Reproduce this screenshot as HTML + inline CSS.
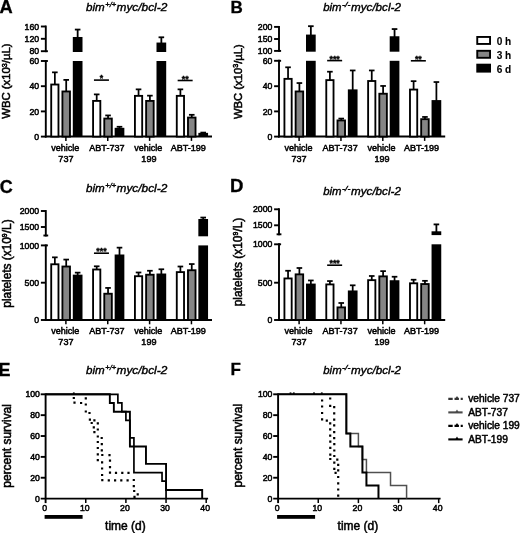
<!DOCTYPE html>
<html><head><meta charset="utf-8"><title>figure</title>
<style>html,body{margin:0;padding:0;background:#fff;}svg{display:block;will-change:transform;}text{font-family:"Liberation Sans",sans-serif;fill:#000;}</style>
</head><body>
<svg width="520" height="533" viewBox="0 0 520 533">
<rect x="0" y="0" width="520" height="533" fill="#fff"/>
<text x="-0.60" y="12.50" font-size="18.3" text-anchor="start" font-weight="bold" font-style="normal" stroke="#000" stroke-width="0.3" >A</text>
<text x="230.40" y="12.50" font-size="17" text-anchor="start" font-weight="bold" font-style="normal" stroke="#000" stroke-width="0.3" >B</text>
<text x="-0.30" y="193.20" font-size="18" text-anchor="start" font-weight="bold" font-style="normal" stroke="#000" stroke-width="0.3" >C</text>
<text x="229.90" y="191.80" font-size="18.6" text-anchor="start" font-weight="bold" font-style="normal" stroke="#000" stroke-width="0.3" >D</text>
<text x="-1.60" y="375.70" font-size="18" text-anchor="start" font-weight="bold" font-style="normal" stroke="#000" stroke-width="0.3" >E</text>
<text x="230.40" y="374.80" font-size="17" text-anchor="start" font-weight="bold" font-style="normal" stroke="#000" stroke-width="0.3" >F</text>
<text x="86.00" y="10.60" font-size="11.6" textLength="18.7" font-style="italic" stroke="#000" stroke-width="0.4" lengthAdjust="spacingAndGlyphs">bim</text>
<text x="105.20" y="6.60" font-size="7.5" textLength="11.0" font-style="italic" stroke="#000" stroke-width="0.4" lengthAdjust="spacingAndGlyphs">+/+</text>
<text x="116.50" y="10.60" font-size="11.6" textLength="50.8" font-style="italic" stroke="#000" stroke-width="0.4" lengthAdjust="spacingAndGlyphs">myc/bcl-2</text>
<text x="323.20" y="10.60" font-size="11.6" textLength="18.3" font-style="italic" stroke="#000" stroke-width="0.4" lengthAdjust="spacingAndGlyphs">bim</text>
<text x="342.00" y="6.60" font-size="7.5" textLength="8.4" font-style="italic" stroke="#000" stroke-width="0.4" lengthAdjust="spacingAndGlyphs">-/-</text>
<text x="351.00" y="10.60" font-size="11.6" textLength="49.9" font-style="italic" stroke="#000" stroke-width="0.4" lengthAdjust="spacingAndGlyphs">myc/bcl-2</text>
<text x="86.00" y="191.70" font-size="11.6" textLength="18.7" font-style="italic" stroke="#000" stroke-width="0.4" lengthAdjust="spacingAndGlyphs">bim</text>
<text x="105.20" y="187.70" font-size="7.5" textLength="11.0" font-style="italic" stroke="#000" stroke-width="0.4" lengthAdjust="spacingAndGlyphs">+/+</text>
<text x="116.50" y="191.70" font-size="11.6" textLength="50.8" font-style="italic" stroke="#000" stroke-width="0.4" lengthAdjust="spacingAndGlyphs">myc/bcl-2</text>
<text x="323.20" y="195.20" font-size="11.6" textLength="18.3" font-style="italic" stroke="#000" stroke-width="0.4" lengthAdjust="spacingAndGlyphs">bim</text>
<text x="342.00" y="191.20" font-size="7.5" textLength="8.4" font-style="italic" stroke="#000" stroke-width="0.4" lengthAdjust="spacingAndGlyphs">-/-</text>
<text x="351.00" y="195.20" font-size="11.6" textLength="49.9" font-style="italic" stroke="#000" stroke-width="0.4" lengthAdjust="spacingAndGlyphs">myc/bcl-2</text>
<text x="86.00" y="374.30" font-size="11.6" textLength="18.7" font-style="italic" stroke="#000" stroke-width="0.4" lengthAdjust="spacingAndGlyphs">bim</text>
<text x="105.20" y="370.30" font-size="7.5" textLength="11.0" font-style="italic" stroke="#000" stroke-width="0.4" lengthAdjust="spacingAndGlyphs">+/+</text>
<text x="116.50" y="374.30" font-size="11.6" textLength="50.8" font-style="italic" stroke="#000" stroke-width="0.4" lengthAdjust="spacingAndGlyphs">myc/bcl-2</text>
<text x="323.30" y="374.40" font-size="11.6" textLength="18.3" font-style="italic" stroke="#000" stroke-width="0.4" lengthAdjust="spacingAndGlyphs">bim</text>
<text x="342.10" y="370.40" font-size="7.5" textLength="8.4" font-style="italic" stroke="#000" stroke-width="0.4" lengthAdjust="spacingAndGlyphs">-/-</text>
<text x="351.10" y="374.40" font-size="11.6" textLength="49.9" font-style="italic" stroke="#000" stroke-width="0.4" lengthAdjust="spacingAndGlyphs">myc/bcl-2</text>
<text transform="translate(10.40,81.15) rotate(-90)" font-size="11" text-anchor="middle" textLength="75.3" lengthAdjust="spacingAndGlyphs" stroke="#000" stroke-width="0.55">WBC (x10<tspan font-size="7" dy="-3.5">3</tspan><tspan dy="3.5">/µL)</tspan></text>
<text transform="translate(241.50,81.60) rotate(-90)" font-size="11" text-anchor="middle" textLength="74.8" lengthAdjust="spacingAndGlyphs" stroke="#000" stroke-width="0.55">WBC (x10<tspan font-size="7" dy="-3.5">3</tspan><tspan dy="3.5">/µL)</tspan></text>
<text transform="translate(10.50,263.55) rotate(-90)" font-size="12" text-anchor="middle" textLength="88.3" lengthAdjust="spacingAndGlyphs" stroke="#000" stroke-width="0.55">platelets (x10<tspan font-size="7" dy="-3.5">9</tspan><tspan dy="3.5">/L)</tspan></text>
<text transform="translate(241.60,262.00) rotate(-90)" font-size="12" text-anchor="middle" textLength="88.5" lengthAdjust="spacingAndGlyphs" stroke="#000" stroke-width="0.55">platelets (x10<tspan font-size="7" dy="-3.5">9</tspan><tspan dy="3.5">/L)</tspan></text>
<text transform="translate(10.90,445.90) rotate(-90)" font-size="12" text-anchor="middle" textLength="83.6" lengthAdjust="spacingAndGlyphs" stroke="#000" stroke-width="0.55">percent survival</text>
<text transform="translate(242.00,445.70) rotate(-90)" font-size="12" text-anchor="middle" textLength="83.6" lengthAdjust="spacingAndGlyphs" stroke="#000" stroke-width="0.55">percent survival</text>
<line x1="45.80" y1="60.05" x2="45.80" y2="137.55" stroke="#000" stroke-width="1.9" />
<line x1="40.90" y1="61.00" x2="47.90" y2="61.00" stroke="#000" stroke-width="1.9" />
<text x="39.10" y="64.10" font-size="8.7" text-anchor="end" font-weight="normal" font-style="normal" stroke="#000" stroke-width="0.5" >60</text>
<line x1="40.90" y1="86.20" x2="45.80" y2="86.20" stroke="#000" stroke-width="1.9" />
<text x="39.10" y="89.30" font-size="8.7" text-anchor="end" font-weight="normal" font-style="normal" stroke="#000" stroke-width="0.5" >40</text>
<line x1="40.90" y1="111.40" x2="45.80" y2="111.40" stroke="#000" stroke-width="1.9" />
<text x="39.10" y="114.50" font-size="8.7" text-anchor="end" font-weight="normal" font-style="normal" stroke="#000" stroke-width="0.5" >20</text>
<line x1="40.90" y1="136.60" x2="45.80" y2="136.60" stroke="#000" stroke-width="1.9" />
<text x="39.10" y="139.70" font-size="8.7" text-anchor="end" font-weight="normal" font-style="normal" stroke="#000" stroke-width="0.5" >0</text>
<line x1="45.80" y1="25.55" x2="45.80" y2="52.15" stroke="#000" stroke-width="1.9" />
<line x1="40.90" y1="26.50" x2="45.80" y2="26.50" stroke="#000" stroke-width="1.9" />
<text x="39.10" y="29.60" font-size="8.7" text-anchor="end" font-weight="normal" font-style="normal" stroke="#000" stroke-width="0.5" >160</text>
<line x1="40.90" y1="38.80" x2="45.80" y2="38.80" stroke="#000" stroke-width="1.9" />
<text x="39.10" y="41.90" font-size="8.7" text-anchor="end" font-weight="normal" font-style="normal" stroke="#000" stroke-width="0.5" >120</text>
<line x1="40.90" y1="51.20" x2="47.90" y2="51.20" stroke="#000" stroke-width="1.9" />
<text x="39.10" y="54.30" font-size="8.7" text-anchor="end" font-weight="normal" font-style="normal" stroke="#000" stroke-width="0.5" >80</text>
<line x1="44.85" y1="136.60" x2="212.00" y2="136.60" stroke="#000" stroke-width="2.0" />
<line x1="65.90" y1="136.60" x2="65.90" y2="140.90" stroke="#000" stroke-width="1.5" />
<line x1="54.85" y1="72.34" x2="54.85" y2="85.31" stroke="#000" stroke-width="1.75" />
<line x1="52.05" y1="72.34" x2="57.65" y2="72.34" stroke="#000" stroke-width="1.75" />
<rect x="51.22" y="84.53" width="7.25" height="52.06" fill="#fff" stroke="#000" stroke-width="1.85"/>
<line x1="66.20" y1="79.90" x2="66.20" y2="92.24" stroke="#000" stroke-width="1.75" />
<line x1="63.40" y1="79.90" x2="69.00" y2="79.90" stroke="#000" stroke-width="1.75" />
<rect x="62.42" y="91.46" width="7.55" height="45.14" fill="#858585" stroke="#000" stroke-width="1.85"/>
<rect x="72.80" y="61.00" width="9.70" height="75.60" fill="#000"/>
<rect x="72.80" y="36.99" width="9.70" height="15.01" fill="#000"/>
<line x1="77.65" y1="29.57" x2="77.65" y2="37.99" stroke="#000" stroke-width="1.8" />
<line x1="74.85" y1="29.57" x2="80.45" y2="29.57" stroke="#000" stroke-width="1.8" />
<line x1="107.75" y1="136.60" x2="107.75" y2="140.90" stroke="#000" stroke-width="1.5" />
<line x1="96.70" y1="94.39" x2="96.70" y2="101.69" stroke="#000" stroke-width="1.75" />
<line x1="93.90" y1="94.39" x2="99.50" y2="94.39" stroke="#000" stroke-width="1.75" />
<rect x="93.08" y="100.91" width="7.25" height="35.69" fill="#fff" stroke="#000" stroke-width="1.85"/>
<line x1="108.05" y1="115.43" x2="108.05" y2="119.33" stroke="#000" stroke-width="1.75" />
<line x1="105.25" y1="115.43" x2="110.85" y2="115.43" stroke="#000" stroke-width="1.75" />
<rect x="104.28" y="118.55" width="7.55" height="18.04" fill="#858585" stroke="#000" stroke-width="1.85"/>
<line x1="119.50" y1="126.77" x2="119.50" y2="129.41" stroke="#000" stroke-width="1.75" />
<line x1="116.70" y1="126.77" x2="122.30" y2="126.77" stroke="#000" stroke-width="1.75" />
<rect x="114.65" y="127.81" width="9.70" height="8.79" fill="#000"/>
<line x1="149.60" y1="136.60" x2="149.60" y2="140.90" stroke="#000" stroke-width="1.5" />
<line x1="138.55" y1="89.35" x2="138.55" y2="96.65" stroke="#000" stroke-width="1.75" />
<line x1="135.75" y1="89.35" x2="141.35" y2="89.35" stroke="#000" stroke-width="1.75" />
<rect x="134.93" y="95.87" width="7.25" height="40.73" fill="#fff" stroke="#000" stroke-width="1.85"/>
<line x1="149.90" y1="95.65" x2="149.90" y2="101.69" stroke="#000" stroke-width="1.75" />
<line x1="147.10" y1="95.65" x2="152.70" y2="95.65" stroke="#000" stroke-width="1.75" />
<rect x="146.12" y="100.91" width="7.55" height="35.69" fill="#858585" stroke="#000" stroke-width="1.85"/>
<rect x="156.50" y="61.00" width="9.70" height="75.60" fill="#000"/>
<rect x="156.50" y="42.55" width="9.70" height="9.45" fill="#000"/>
<line x1="161.35" y1="37.30" x2="161.35" y2="43.55" stroke="#000" stroke-width="1.8" />
<line x1="158.55" y1="37.30" x2="164.15" y2="37.30" stroke="#000" stroke-width="1.8" />
<line x1="191.45" y1="136.60" x2="191.45" y2="140.90" stroke="#000" stroke-width="1.5" />
<line x1="180.40" y1="89.35" x2="180.40" y2="96.65" stroke="#000" stroke-width="1.75" />
<line x1="177.60" y1="89.35" x2="183.20" y2="89.35" stroke="#000" stroke-width="1.75" />
<rect x="176.78" y="95.87" width="7.25" height="40.73" fill="#fff" stroke="#000" stroke-width="1.85"/>
<line x1="191.75" y1="114.80" x2="191.75" y2="118.32" stroke="#000" stroke-width="1.75" />
<line x1="188.95" y1="114.80" x2="194.55" y2="114.80" stroke="#000" stroke-width="1.75" />
<rect x="187.98" y="117.55" width="7.55" height="19.05" fill="#858585" stroke="#000" stroke-width="1.85"/>
<line x1="203.20" y1="132.57" x2="203.20" y2="134.45" stroke="#000" stroke-width="1.75" />
<line x1="200.40" y1="132.57" x2="206.00" y2="132.57" stroke="#000" stroke-width="1.75" />
<rect x="198.35" y="132.85" width="9.70" height="3.75" fill="#000"/>
<line x1="93.95" y1="80.10" x2="108.95" y2="80.10" stroke="#000" stroke-width="1.6" />
<text x="101.45" y="81.20" font-size="8.8" text-anchor="middle" font-weight="bold" font-style="normal" stroke="#000" stroke-width="0.35" >*</text>
<line x1="177.65" y1="80.50" x2="192.65" y2="80.50" stroke="#000" stroke-width="1.6" />
<text x="185.15" y="81.60" font-size="8.8" text-anchor="middle" font-weight="bold" font-style="normal" stroke="#000" stroke-width="0.35" >**</text>
<text x="65.30" y="151.20" font-size="9.05" text-anchor="middle" font-weight="normal" font-style="normal" stroke="#000" stroke-width="0.5" >vehicle</text>
<text x="65.90" y="162.10" font-size="9.05" text-anchor="middle" font-weight="normal" font-style="normal" stroke="#000" stroke-width="0.5" >737</text>
<text x="106.90" y="151.20" font-size="9.05" text-anchor="middle" font-weight="normal" font-style="normal" stroke="#000" stroke-width="0.5" >ABT-737</text>
<text x="148.30" y="151.20" font-size="9.05" text-anchor="middle" font-weight="normal" font-style="normal" stroke="#000" stroke-width="0.5" >vehicle</text>
<text x="148.90" y="162.10" font-size="9.05" text-anchor="middle" font-weight="normal" font-style="normal" stroke="#000" stroke-width="0.5" >199</text>
<text x="188.30" y="151.20" font-size="9.05" text-anchor="middle" font-weight="normal" font-style="normal" stroke="#000" stroke-width="0.5" >ABT-199</text>
<line x1="279.00" y1="59.85" x2="279.00" y2="137.55" stroke="#000" stroke-width="1.9" />
<line x1="274.10" y1="60.80" x2="281.10" y2="60.80" stroke="#000" stroke-width="1.9" />
<text x="272.30" y="63.90" font-size="8.7" text-anchor="end" font-weight="normal" font-style="normal" stroke="#000" stroke-width="0.5" >60</text>
<line x1="274.10" y1="86.20" x2="279.00" y2="86.20" stroke="#000" stroke-width="1.9" />
<text x="272.30" y="89.30" font-size="8.7" text-anchor="end" font-weight="normal" font-style="normal" stroke="#000" stroke-width="0.5" >40</text>
<line x1="274.10" y1="111.40" x2="279.00" y2="111.40" stroke="#000" stroke-width="1.9" />
<text x="272.30" y="114.50" font-size="8.7" text-anchor="end" font-weight="normal" font-style="normal" stroke="#000" stroke-width="0.5" >20</text>
<line x1="274.10" y1="136.60" x2="279.00" y2="136.60" stroke="#000" stroke-width="1.9" />
<text x="272.30" y="139.70" font-size="8.7" text-anchor="end" font-weight="normal" font-style="normal" stroke="#000" stroke-width="0.5" >0</text>
<line x1="279.00" y1="25.95" x2="279.00" y2="51.85" stroke="#000" stroke-width="1.9" />
<line x1="274.10" y1="26.90" x2="279.00" y2="26.90" stroke="#000" stroke-width="1.9" />
<text x="272.30" y="30.00" font-size="8.7" text-anchor="end" font-weight="normal" font-style="normal" stroke="#000" stroke-width="0.5" >200</text>
<line x1="274.10" y1="39.00" x2="279.00" y2="39.00" stroke="#000" stroke-width="1.9" />
<text x="272.30" y="42.10" font-size="8.7" text-anchor="end" font-weight="normal" font-style="normal" stroke="#000" stroke-width="0.5" >150</text>
<line x1="274.10" y1="50.90" x2="281.10" y2="50.90" stroke="#000" stroke-width="1.9" />
<text x="272.30" y="54.00" font-size="8.7" text-anchor="end" font-weight="normal" font-style="normal" stroke="#000" stroke-width="0.5" >100</text>
<line x1="278.05" y1="136.60" x2="445.20" y2="136.60" stroke="#000" stroke-width="2.0" />
<line x1="299.10" y1="136.60" x2="299.10" y2="140.90" stroke="#000" stroke-width="1.5" />
<line x1="288.05" y1="67.30" x2="288.05" y2="79.64" stroke="#000" stroke-width="1.75" />
<line x1="285.25" y1="67.30" x2="290.85" y2="67.30" stroke="#000" stroke-width="1.75" />
<rect x="284.43" y="78.86" width="7.25" height="57.74" fill="#fff" stroke="#000" stroke-width="1.85"/>
<line x1="299.40" y1="83.05" x2="299.40" y2="92.24" stroke="#000" stroke-width="1.75" />
<line x1="296.60" y1="83.05" x2="302.20" y2="83.05" stroke="#000" stroke-width="1.75" />
<rect x="295.62" y="91.46" width="7.55" height="45.14" fill="#858585" stroke="#000" stroke-width="1.85"/>
<rect x="306.00" y="60.80" width="9.70" height="75.80" fill="#000"/>
<rect x="306.00" y="34.58" width="9.70" height="17.12" fill="#000"/>
<line x1="310.85" y1="26.18" x2="310.85" y2="35.58" stroke="#000" stroke-width="1.8" />
<line x1="308.05" y1="26.18" x2="313.65" y2="26.18" stroke="#000" stroke-width="1.8" />
<line x1="340.95" y1="136.60" x2="340.95" y2="140.90" stroke="#000" stroke-width="1.5" />
<line x1="329.90" y1="71.71" x2="329.90" y2="80.90" stroke="#000" stroke-width="1.75" />
<line x1="327.10" y1="71.71" x2="332.70" y2="71.71" stroke="#000" stroke-width="1.75" />
<rect x="326.28" y="80.12" width="7.25" height="56.48" fill="#fff" stroke="#000" stroke-width="1.85"/>
<line x1="341.25" y1="118.58" x2="341.25" y2="121.22" stroke="#000" stroke-width="1.75" />
<line x1="338.45" y1="118.58" x2="344.05" y2="118.58" stroke="#000" stroke-width="1.75" />
<rect x="337.48" y="120.44" width="7.55" height="16.15" fill="#858585" stroke="#000" stroke-width="1.85"/>
<line x1="352.70" y1="70.45" x2="352.70" y2="90.98" stroke="#000" stroke-width="1.75" />
<line x1="349.90" y1="70.45" x2="355.50" y2="70.45" stroke="#000" stroke-width="1.75" />
<rect x="347.85" y="89.38" width="9.70" height="47.22" fill="#000"/>
<line x1="382.80" y1="136.60" x2="382.80" y2="140.90" stroke="#000" stroke-width="1.5" />
<line x1="371.75" y1="70.45" x2="371.75" y2="81.78" stroke="#000" stroke-width="1.75" />
<line x1="368.95" y1="70.45" x2="374.55" y2="70.45" stroke="#000" stroke-width="1.75" />
<rect x="368.12" y="81.01" width="7.25" height="55.59" fill="#fff" stroke="#000" stroke-width="1.85"/>
<line x1="383.10" y1="85.95" x2="383.10" y2="94.51" stroke="#000" stroke-width="1.75" />
<line x1="380.30" y1="85.95" x2="385.90" y2="85.95" stroke="#000" stroke-width="1.75" />
<rect x="379.32" y="93.73" width="7.55" height="42.87" fill="#858585" stroke="#000" stroke-width="1.85"/>
<rect x="389.70" y="60.80" width="9.70" height="75.80" fill="#000"/>
<rect x="389.70" y="36.26" width="9.70" height="15.44" fill="#000"/>
<line x1="394.55" y1="29.06" x2="394.55" y2="37.26" stroke="#000" stroke-width="1.8" />
<line x1="391.75" y1="29.06" x2="397.35" y2="29.06" stroke="#000" stroke-width="1.8" />
<line x1="424.65" y1="136.60" x2="424.65" y2="140.90" stroke="#000" stroke-width="1.5" />
<line x1="413.60" y1="81.16" x2="413.60" y2="90.35" stroke="#000" stroke-width="1.75" />
<line x1="410.80" y1="81.16" x2="416.40" y2="81.16" stroke="#000" stroke-width="1.75" />
<rect x="409.98" y="89.57" width="7.25" height="47.03" fill="#fff" stroke="#000" stroke-width="1.85"/>
<line x1="424.95" y1="116.94" x2="424.95" y2="119.96" stroke="#000" stroke-width="1.75" />
<line x1="422.15" y1="116.94" x2="427.75" y2="116.94" stroke="#000" stroke-width="1.75" />
<rect x="421.18" y="119.18" width="7.55" height="17.41" fill="#858585" stroke="#000" stroke-width="1.85"/>
<line x1="436.40" y1="82.04" x2="436.40" y2="101.69" stroke="#000" stroke-width="1.75" />
<line x1="433.60" y1="82.04" x2="439.20" y2="82.04" stroke="#000" stroke-width="1.75" />
<rect x="431.55" y="100.09" width="9.70" height="36.51" fill="#000"/>
<line x1="327.15" y1="60.60" x2="342.15" y2="60.60" stroke="#000" stroke-width="1.6" />
<text x="334.65" y="61.70" font-size="8.8" text-anchor="middle" font-weight="bold" font-style="normal" stroke="#000" stroke-width="0.35" >***</text>
<line x1="410.85" y1="60.80" x2="425.85" y2="60.80" stroke="#000" stroke-width="1.6" />
<text x="418.35" y="61.90" font-size="8.8" text-anchor="middle" font-weight="bold" font-style="normal" stroke="#000" stroke-width="0.35" >**</text>
<text x="298.50" y="151.20" font-size="9.05" text-anchor="middle" font-weight="normal" font-style="normal" stroke="#000" stroke-width="0.5" >vehicle</text>
<text x="299.10" y="162.10" font-size="9.05" text-anchor="middle" font-weight="normal" font-style="normal" stroke="#000" stroke-width="0.5" >737</text>
<text x="340.10" y="151.20" font-size="9.05" text-anchor="middle" font-weight="normal" font-style="normal" stroke="#000" stroke-width="0.5" >ABT-737</text>
<text x="381.50" y="151.20" font-size="9.05" text-anchor="middle" font-weight="normal" font-style="normal" stroke="#000" stroke-width="0.5" >vehicle</text>
<text x="382.10" y="162.10" font-size="9.05" text-anchor="middle" font-weight="normal" font-style="normal" stroke="#000" stroke-width="0.5" >199</text>
<text x="421.50" y="151.20" font-size="9.05" text-anchor="middle" font-weight="normal" font-style="normal" stroke="#000" stroke-width="0.5" >ABT-199</text>
<line x1="45.80" y1="244.45" x2="45.80" y2="320.95" stroke="#000" stroke-width="1.9" />
<line x1="40.90" y1="245.40" x2="47.90" y2="245.40" stroke="#000" stroke-width="1.9" />
<text x="39.10" y="248.50" font-size="8.7" text-anchor="end" font-weight="normal" font-style="normal" stroke="#000" stroke-width="0.5" >1000</text>
<line x1="40.90" y1="282.70" x2="45.80" y2="282.70" stroke="#000" stroke-width="1.9" />
<text x="39.10" y="285.80" font-size="8.7" text-anchor="end" font-weight="normal" font-style="normal" stroke="#000" stroke-width="0.5" >500</text>
<line x1="40.90" y1="320.00" x2="45.80" y2="320.00" stroke="#000" stroke-width="1.9" />
<text x="39.10" y="323.10" font-size="8.7" text-anchor="end" font-weight="normal" font-style="normal" stroke="#000" stroke-width="0.5" >0</text>
<line x1="45.80" y1="210.05" x2="45.80" y2="236.45" stroke="#000" stroke-width="1.9" />
<line x1="40.90" y1="211.00" x2="45.80" y2="211.00" stroke="#000" stroke-width="1.9" />
<text x="39.10" y="214.10" font-size="8.7" text-anchor="end" font-weight="normal" font-style="normal" stroke="#000" stroke-width="0.5" >2000</text>
<line x1="40.90" y1="227.00" x2="45.80" y2="227.00" stroke="#000" stroke-width="1.9" />
<text x="39.10" y="230.10" font-size="8.7" text-anchor="end" font-weight="normal" font-style="normal" stroke="#000" stroke-width="0.5" >1500</text>
<line x1="43.40" y1="235.50" x2="48.20" y2="235.50" stroke="#000" stroke-width="1.9" />
<line x1="44.85" y1="320.00" x2="212.00" y2="320.00" stroke="#000" stroke-width="2.0" />
<line x1="65.90" y1="320.00" x2="65.90" y2="324.30" stroke="#000" stroke-width="1.5" />
<line x1="54.85" y1="257.34" x2="54.85" y2="265.05" stroke="#000" stroke-width="1.75" />
<line x1="52.05" y1="257.34" x2="57.65" y2="257.34" stroke="#000" stroke-width="1.75" />
<rect x="51.22" y="264.28" width="7.25" height="55.72" fill="#fff" stroke="#000" stroke-width="1.85"/>
<line x1="66.20" y1="259.57" x2="66.20" y2="267.29" stroke="#000" stroke-width="1.75" />
<line x1="63.40" y1="259.57" x2="69.00" y2="259.57" stroke="#000" stroke-width="1.75" />
<rect x="62.42" y="266.51" width="7.55" height="53.49" fill="#858585" stroke="#000" stroke-width="1.85"/>
<line x1="77.65" y1="272.63" x2="77.65" y2="276.24" stroke="#000" stroke-width="1.75" />
<line x1="74.85" y1="272.63" x2="80.45" y2="272.63" stroke="#000" stroke-width="1.75" />
<rect x="72.80" y="274.64" width="9.70" height="45.36" fill="#000"/>
<line x1="107.75" y1="320.00" x2="107.75" y2="324.30" stroke="#000" stroke-width="1.5" />
<line x1="96.70" y1="266.29" x2="96.70" y2="270.27" stroke="#000" stroke-width="1.75" />
<line x1="93.90" y1="266.29" x2="99.50" y2="266.29" stroke="#000" stroke-width="1.75" />
<rect x="93.08" y="269.50" width="7.25" height="50.50" fill="#fff" stroke="#000" stroke-width="1.85"/>
<line x1="108.05" y1="287.92" x2="108.05" y2="294.52" stroke="#000" stroke-width="1.75" />
<line x1="105.25" y1="287.92" x2="110.85" y2="287.92" stroke="#000" stroke-width="1.75" />
<rect x="104.28" y="293.74" width="7.55" height="26.26" fill="#858585" stroke="#000" stroke-width="1.85"/>
<line x1="119.50" y1="247.64" x2="119.50" y2="256.10" stroke="#000" stroke-width="1.75" />
<line x1="116.70" y1="247.64" x2="122.30" y2="247.64" stroke="#000" stroke-width="1.75" />
<rect x="114.65" y="254.50" width="9.70" height="65.50" fill="#000"/>
<line x1="149.60" y1="320.00" x2="149.60" y2="324.30" stroke="#000" stroke-width="1.5" />
<line x1="138.55" y1="272.48" x2="138.55" y2="276.99" stroke="#000" stroke-width="1.75" />
<line x1="135.75" y1="272.48" x2="141.35" y2="272.48" stroke="#000" stroke-width="1.75" />
<rect x="134.93" y="276.21" width="7.25" height="43.79" fill="#fff" stroke="#000" stroke-width="1.85"/>
<line x1="149.90" y1="270.76" x2="149.90" y2="275.49" stroke="#000" stroke-width="1.75" />
<line x1="147.10" y1="270.76" x2="152.70" y2="270.76" stroke="#000" stroke-width="1.75" />
<rect x="146.12" y="274.72" width="7.55" height="45.28" fill="#858585" stroke="#000" stroke-width="1.85"/>
<line x1="161.35" y1="269.27" x2="161.35" y2="275.12" stroke="#000" stroke-width="1.75" />
<line x1="158.55" y1="269.27" x2="164.15" y2="269.27" stroke="#000" stroke-width="1.75" />
<rect x="156.50" y="273.52" width="9.70" height="46.48" fill="#000"/>
<line x1="191.45" y1="320.00" x2="191.45" y2="324.30" stroke="#000" stroke-width="1.5" />
<line x1="180.40" y1="266.51" x2="180.40" y2="272.88" stroke="#000" stroke-width="1.75" />
<line x1="177.60" y1="266.51" x2="183.20" y2="266.51" stroke="#000" stroke-width="1.75" />
<rect x="176.78" y="272.11" width="7.25" height="47.89" fill="#fff" stroke="#000" stroke-width="1.85"/>
<line x1="191.75" y1="264.05" x2="191.75" y2="271.02" stroke="#000" stroke-width="1.75" />
<line x1="188.95" y1="264.05" x2="194.55" y2="264.05" stroke="#000" stroke-width="1.75" />
<rect x="187.98" y="270.24" width="7.55" height="49.76" fill="#858585" stroke="#000" stroke-width="1.85"/>
<rect x="198.35" y="245.40" width="9.70" height="74.60" fill="#000"/>
<rect x="198.35" y="219.00" width="9.70" height="17.30" fill="#000"/>
<line x1="203.20" y1="217.56" x2="203.20" y2="220.00" stroke="#000" stroke-width="1.8" />
<line x1="200.40" y1="217.56" x2="206.00" y2="217.56" stroke="#000" stroke-width="1.8" />
<line x1="93.95" y1="253.20" x2="108.95" y2="253.20" stroke="#000" stroke-width="1.6" />
<text x="101.45" y="254.30" font-size="8.8" text-anchor="middle" font-weight="bold" font-style="normal" stroke="#000" stroke-width="0.35" >***</text>
<text x="65.30" y="334.00" font-size="9.05" text-anchor="middle" font-weight="normal" font-style="normal" stroke="#000" stroke-width="0.5" >vehicle</text>
<text x="65.90" y="344.90" font-size="9.05" text-anchor="middle" font-weight="normal" font-style="normal" stroke="#000" stroke-width="0.5" >737</text>
<text x="106.90" y="334.00" font-size="9.05" text-anchor="middle" font-weight="normal" font-style="normal" stroke="#000" stroke-width="0.5" >ABT-737</text>
<text x="148.30" y="334.00" font-size="9.05" text-anchor="middle" font-weight="normal" font-style="normal" stroke="#000" stroke-width="0.5" >vehicle</text>
<text x="148.90" y="344.90" font-size="9.05" text-anchor="middle" font-weight="normal" font-style="normal" stroke="#000" stroke-width="0.5" >199</text>
<text x="188.30" y="334.00" font-size="9.05" text-anchor="middle" font-weight="normal" font-style="normal" stroke="#000" stroke-width="0.5" >ABT-199</text>
<line x1="279.00" y1="243.35" x2="279.00" y2="320.95" stroke="#000" stroke-width="1.9" />
<line x1="274.10" y1="244.30" x2="281.10" y2="244.30" stroke="#000" stroke-width="1.9" />
<text x="272.30" y="247.40" font-size="8.7" text-anchor="end" font-weight="normal" font-style="normal" stroke="#000" stroke-width="0.5" >1000</text>
<line x1="274.10" y1="282.70" x2="279.00" y2="282.70" stroke="#000" stroke-width="1.9" />
<text x="272.30" y="285.80" font-size="8.7" text-anchor="end" font-weight="normal" font-style="normal" stroke="#000" stroke-width="0.5" >500</text>
<line x1="274.10" y1="320.00" x2="279.00" y2="320.00" stroke="#000" stroke-width="1.9" />
<text x="272.30" y="323.10" font-size="8.7" text-anchor="end" font-weight="normal" font-style="normal" stroke="#000" stroke-width="0.5" >0</text>
<line x1="279.00" y1="208.35" x2="279.00" y2="235.25" stroke="#000" stroke-width="1.9" />
<line x1="274.10" y1="209.30" x2="279.00" y2="209.30" stroke="#000" stroke-width="1.9" />
<text x="272.30" y="212.40" font-size="8.7" text-anchor="end" font-weight="normal" font-style="normal" stroke="#000" stroke-width="0.5" >2000</text>
<line x1="274.10" y1="225.30" x2="279.00" y2="225.30" stroke="#000" stroke-width="1.9" />
<text x="272.30" y="228.40" font-size="8.7" text-anchor="end" font-weight="normal" font-style="normal" stroke="#000" stroke-width="0.5" >1500</text>
<line x1="276.60" y1="234.30" x2="281.40" y2="234.30" stroke="#000" stroke-width="1.9" />
<line x1="278.05" y1="320.00" x2="445.20" y2="320.00" stroke="#000" stroke-width="2.0" />
<line x1="299.10" y1="320.00" x2="299.10" y2="324.30" stroke="#000" stroke-width="1.5" />
<line x1="288.05" y1="270.76" x2="288.05" y2="279.22" stroke="#000" stroke-width="1.75" />
<line x1="285.25" y1="270.76" x2="290.85" y2="270.76" stroke="#000" stroke-width="1.75" />
<rect x="284.43" y="278.45" width="7.25" height="41.55" fill="#fff" stroke="#000" stroke-width="1.85"/>
<line x1="299.40" y1="268.00" x2="299.40" y2="275.12" stroke="#000" stroke-width="1.75" />
<line x1="296.60" y1="268.00" x2="302.20" y2="268.00" stroke="#000" stroke-width="1.75" />
<rect x="295.62" y="274.35" width="7.55" height="45.65" fill="#858585" stroke="#000" stroke-width="1.85"/>
<line x1="310.85" y1="280.46" x2="310.85" y2="285.19" stroke="#000" stroke-width="1.75" />
<line x1="308.05" y1="280.46" x2="313.65" y2="280.46" stroke="#000" stroke-width="1.75" />
<rect x="306.00" y="283.59" width="9.70" height="36.41" fill="#000"/>
<line x1="340.95" y1="320.00" x2="340.95" y2="324.30" stroke="#000" stroke-width="1.5" />
<line x1="329.90" y1="281.06" x2="329.90" y2="285.19" stroke="#000" stroke-width="1.75" />
<line x1="327.10" y1="281.06" x2="332.70" y2="281.06" stroke="#000" stroke-width="1.75" />
<rect x="326.28" y="284.42" width="7.25" height="35.58" fill="#fff" stroke="#000" stroke-width="1.85"/>
<line x1="341.25" y1="302.99" x2="341.25" y2="308.17" stroke="#000" stroke-width="1.75" />
<line x1="338.45" y1="302.99" x2="344.05" y2="302.99" stroke="#000" stroke-width="1.75" />
<rect x="337.48" y="307.39" width="7.55" height="12.61" fill="#858585" stroke="#000" stroke-width="1.85"/>
<line x1="352.70" y1="285.31" x2="352.70" y2="292.06" stroke="#000" stroke-width="1.75" />
<line x1="349.90" y1="285.31" x2="355.50" y2="285.31" stroke="#000" stroke-width="1.75" />
<rect x="347.85" y="290.46" width="9.70" height="29.54" fill="#000"/>
<line x1="382.80" y1="320.00" x2="382.80" y2="324.30" stroke="#000" stroke-width="1.5" />
<line x1="371.75" y1="275.99" x2="371.75" y2="280.94" stroke="#000" stroke-width="1.75" />
<line x1="368.95" y1="275.99" x2="374.55" y2="275.99" stroke="#000" stroke-width="1.75" />
<rect x="368.12" y="280.16" width="7.25" height="39.84" fill="#fff" stroke="#000" stroke-width="1.85"/>
<line x1="383.10" y1="271.14" x2="383.10" y2="277.14" stroke="#000" stroke-width="1.75" />
<line x1="380.30" y1="271.14" x2="385.90" y2="271.14" stroke="#000" stroke-width="1.75" />
<rect x="379.32" y="276.36" width="7.55" height="43.64" fill="#858585" stroke="#000" stroke-width="1.85"/>
<line x1="394.55" y1="276.73" x2="394.55" y2="281.83" stroke="#000" stroke-width="1.75" />
<line x1="391.75" y1="276.73" x2="397.35" y2="276.73" stroke="#000" stroke-width="1.75" />
<rect x="389.70" y="280.23" width="9.70" height="39.77" fill="#000"/>
<line x1="424.65" y1="320.00" x2="424.65" y2="324.30" stroke="#000" stroke-width="1.5" />
<line x1="413.60" y1="279.72" x2="413.60" y2="284.07" stroke="#000" stroke-width="1.75" />
<line x1="410.80" y1="279.72" x2="416.40" y2="279.72" stroke="#000" stroke-width="1.75" />
<rect x="409.98" y="283.30" width="7.25" height="36.70" fill="#fff" stroke="#000" stroke-width="1.85"/>
<line x1="424.95" y1="280.83" x2="424.95" y2="284.82" stroke="#000" stroke-width="1.75" />
<line x1="422.15" y1="280.83" x2="427.75" y2="280.83" stroke="#000" stroke-width="1.75" />
<rect x="421.18" y="284.04" width="7.55" height="35.96" fill="#858585" stroke="#000" stroke-width="1.85"/>
<rect x="431.55" y="244.30" width="9.70" height="75.70" fill="#000"/>
<rect x="431.55" y="231.30" width="9.70" height="3.80" fill="#000"/>
<line x1="436.40" y1="224.40" x2="436.40" y2="232.30" stroke="#000" stroke-width="1.8" />
<line x1="433.60" y1="224.40" x2="439.20" y2="224.40" stroke="#000" stroke-width="1.8" />
<line x1="327.15" y1="265.20" x2="342.15" y2="265.20" stroke="#000" stroke-width="1.6" />
<text x="334.65" y="266.30" font-size="8.8" text-anchor="middle" font-weight="bold" font-style="normal" stroke="#000" stroke-width="0.35" >***</text>
<text x="298.50" y="334.00" font-size="9.05" text-anchor="middle" font-weight="normal" font-style="normal" stroke="#000" stroke-width="0.5" >vehicle</text>
<text x="299.10" y="344.90" font-size="9.05" text-anchor="middle" font-weight="normal" font-style="normal" stroke="#000" stroke-width="0.5" >737</text>
<text x="340.10" y="334.00" font-size="9.05" text-anchor="middle" font-weight="normal" font-style="normal" stroke="#000" stroke-width="0.5" >ABT-737</text>
<text x="381.50" y="334.00" font-size="9.05" text-anchor="middle" font-weight="normal" font-style="normal" stroke="#000" stroke-width="0.5" >vehicle</text>
<text x="382.10" y="344.90" font-size="9.05" text-anchor="middle" font-weight="normal" font-style="normal" stroke="#000" stroke-width="0.5" >199</text>
<text x="421.50" y="334.00" font-size="9.05" text-anchor="middle" font-weight="normal" font-style="normal" stroke="#000" stroke-width="0.5" >ABT-199</text>
<rect x="477.25" y="36.95" width="12.80" height="7.00" fill="#fff" stroke="#000" stroke-width="1.9"/>
<text x="496.70" y="44.90" font-size="10.8" text-anchor="start" font-weight="bold" font-style="normal" stroke="#000" stroke-width="0.1" textLength="14.6" lengthAdjust="spacingAndGlyphs">0 h</text>
<rect x="477.25" y="50.80" width="12.80" height="7.00" fill="#858585" stroke="#000" stroke-width="1.9"/>
<text x="496.70" y="58.75" font-size="10.8" text-anchor="start" font-weight="bold" font-style="normal" stroke="#000" stroke-width="0.1" textLength="14.6" lengthAdjust="spacingAndGlyphs">3 h</text>
<rect x="477.25" y="64.65" width="12.80" height="7.00" fill="#000" stroke="#000" stroke-width="1.9"/>
<text x="496.70" y="72.60" font-size="10.8" text-anchor="start" font-weight="bold" font-style="normal" stroke="#000" stroke-width="0.1" textLength="14.6" lengthAdjust="spacingAndGlyphs">6 d</text>
<line x1="45.60" y1="393.35" x2="45.60" y2="503.10" stroke="#000" stroke-width="1.9" />
<line x1="40.70" y1="498.60" x2="208.10" y2="498.60" stroke="#000" stroke-width="1.8" />
<text x="39.90" y="501.70" font-size="8.7" text-anchor="end" font-weight="normal" font-style="normal" stroke="#000" stroke-width="0.5" >0</text>
<line x1="40.70" y1="477.74" x2="45.60" y2="477.74" stroke="#000" stroke-width="1.9" />
<text x="39.90" y="480.84" font-size="8.7" text-anchor="end" font-weight="normal" font-style="normal" stroke="#000" stroke-width="0.5" >20</text>
<line x1="40.70" y1="456.88" x2="45.60" y2="456.88" stroke="#000" stroke-width="1.9" />
<text x="39.90" y="459.98" font-size="8.7" text-anchor="end" font-weight="normal" font-style="normal" stroke="#000" stroke-width="0.5" >40</text>
<line x1="40.70" y1="436.02" x2="45.60" y2="436.02" stroke="#000" stroke-width="1.9" />
<text x="39.90" y="439.12" font-size="8.7" text-anchor="end" font-weight="normal" font-style="normal" stroke="#000" stroke-width="0.5" >60</text>
<line x1="40.70" y1="415.16" x2="45.60" y2="415.16" stroke="#000" stroke-width="1.9" />
<text x="39.90" y="418.26" font-size="8.7" text-anchor="end" font-weight="normal" font-style="normal" stroke="#000" stroke-width="0.5" >80</text>
<line x1="40.70" y1="394.30" x2="45.60" y2="394.30" stroke="#000" stroke-width="1.9" />
<text x="39.90" y="397.40" font-size="8.7" text-anchor="end" font-weight="normal" font-style="normal" stroke="#000" stroke-width="0.5" >100</text>
<text x="44.60" y="511.40" font-size="8.7" text-anchor="middle" font-weight="normal" font-style="normal" stroke="#000" stroke-width="0.5" >0</text>
<line x1="85.75" y1="498.60" x2="85.75" y2="503.10" stroke="#000" stroke-width="1.5" />
<text x="84.75" y="511.40" font-size="8.7" text-anchor="middle" font-weight="normal" font-style="normal" stroke="#000" stroke-width="0.5" >10</text>
<line x1="125.90" y1="498.60" x2="125.90" y2="503.10" stroke="#000" stroke-width="1.5" />
<text x="124.90" y="511.40" font-size="8.7" text-anchor="middle" font-weight="normal" font-style="normal" stroke="#000" stroke-width="0.5" >20</text>
<line x1="166.05" y1="498.60" x2="166.05" y2="503.10" stroke="#000" stroke-width="1.5" />
<text x="165.05" y="511.40" font-size="8.7" text-anchor="middle" font-weight="normal" font-style="normal" stroke="#000" stroke-width="0.5" >30</text>
<line x1="206.20" y1="498.60" x2="206.20" y2="503.10" stroke="#000" stroke-width="1.5" />
<text x="205.20" y="511.40" font-size="8.7" text-anchor="middle" font-weight="normal" font-style="normal" stroke="#000" stroke-width="0.5" >40</text>
<rect x="44.60" y="515.00" width="38.00" height="3.80" fill="#000"/>
<text x="125.40" y="530.00" font-size="12.0" text-anchor="middle" font-weight="normal" font-style="normal" stroke="#000" stroke-width="0.5" >time (d)</text>
<line x1="278.10" y1="393.35" x2="278.10" y2="503.10" stroke="#000" stroke-width="1.9" />
<line x1="273.20" y1="498.60" x2="440.60" y2="498.60" stroke="#000" stroke-width="1.8" />
<text x="272.40" y="501.70" font-size="8.7" text-anchor="end" font-weight="normal" font-style="normal" stroke="#000" stroke-width="0.5" >0</text>
<line x1="273.20" y1="477.74" x2="278.10" y2="477.74" stroke="#000" stroke-width="1.9" />
<text x="272.40" y="480.84" font-size="8.7" text-anchor="end" font-weight="normal" font-style="normal" stroke="#000" stroke-width="0.5" >20</text>
<line x1="273.20" y1="456.88" x2="278.10" y2="456.88" stroke="#000" stroke-width="1.9" />
<text x="272.40" y="459.98" font-size="8.7" text-anchor="end" font-weight="normal" font-style="normal" stroke="#000" stroke-width="0.5" >40</text>
<line x1="273.20" y1="436.02" x2="278.10" y2="436.02" stroke="#000" stroke-width="1.9" />
<text x="272.40" y="439.12" font-size="8.7" text-anchor="end" font-weight="normal" font-style="normal" stroke="#000" stroke-width="0.5" >60</text>
<line x1="273.20" y1="415.16" x2="278.10" y2="415.16" stroke="#000" stroke-width="1.9" />
<text x="272.40" y="418.26" font-size="8.7" text-anchor="end" font-weight="normal" font-style="normal" stroke="#000" stroke-width="0.5" >80</text>
<line x1="273.20" y1="394.30" x2="278.10" y2="394.30" stroke="#000" stroke-width="1.9" />
<text x="272.40" y="397.40" font-size="8.7" text-anchor="end" font-weight="normal" font-style="normal" stroke="#000" stroke-width="0.5" >100</text>
<text x="277.10" y="511.40" font-size="8.7" text-anchor="middle" font-weight="normal" font-style="normal" stroke="#000" stroke-width="0.5" >0</text>
<line x1="318.25" y1="498.60" x2="318.25" y2="503.10" stroke="#000" stroke-width="1.5" />
<text x="317.25" y="511.40" font-size="8.7" text-anchor="middle" font-weight="normal" font-style="normal" stroke="#000" stroke-width="0.5" >10</text>
<line x1="358.40" y1="498.60" x2="358.40" y2="503.10" stroke="#000" stroke-width="1.5" />
<text x="357.40" y="511.40" font-size="8.7" text-anchor="middle" font-weight="normal" font-style="normal" stroke="#000" stroke-width="0.5" >20</text>
<line x1="398.55" y1="498.60" x2="398.55" y2="503.10" stroke="#000" stroke-width="1.5" />
<text x="397.55" y="511.40" font-size="8.7" text-anchor="middle" font-weight="normal" font-style="normal" stroke="#000" stroke-width="0.5" >30</text>
<line x1="438.70" y1="498.60" x2="438.70" y2="503.10" stroke="#000" stroke-width="1.5" />
<text x="437.70" y="511.40" font-size="8.7" text-anchor="middle" font-weight="normal" font-style="normal" stroke="#000" stroke-width="0.5" >40</text>
<rect x="277.10" y="515.00" width="38.00" height="3.80" fill="#000"/>
<text x="357.90" y="530.00" font-size="12.0" text-anchor="middle" font-weight="normal" font-style="normal" stroke="#000" stroke-width="0.5" >time (d)</text>
<path d="M45.60,394.30 L109.84,394.30 L109.84,402.96 L113.85,402.96 L113.85,411.72 L129.91,411.72 L129.91,446.45 L145.97,446.45 L145.97,463.87 L166.05,463.87 L166.05,489.94 L202.18,489.94 L202.18,498.60" fill="none" stroke="#000" stroke-width="1.9" stroke-linejoin="miter"/>
<path d="M45.60,394.30 L117.87,394.30 L117.87,402.96 L121.88,402.96 L121.88,411.72 L125.90,411.72 L125.90,420.38 L129.91,420.38 L129.91,437.79 L133.93,437.79 L133.93,472.53 L162.03,472.53 L162.03,481.18 L166.05,481.18 L166.05,498.60" fill="none" stroke="#000" stroke-width="1.7" stroke-linejoin="miter"/>
<path d="M278.10,394.30 L346.36,394.30 L346.36,433.41 L358.40,433.41 L358.40,446.45 L362.42,446.45 L362.42,459.49 L366.43,459.49 L366.43,472.53 L390.52,472.53 L390.52,485.56 L406.58,485.56 L406.58,498.60" fill="none" stroke="#505050" stroke-width="1.5" stroke-linejoin="miter"/>
<path d="M278.10,394.30 L346.36,394.30 L346.36,433.41 L350.37,433.41 L350.37,446.45 L362.42,446.45 L362.42,472.53 L366.43,472.53 L366.43,485.56 L378.48,485.56 L378.48,498.60" fill="none" stroke="#000" stroke-width="2.0" stroke-linejoin="miter"/>
<path d="M72.70,396.90h2.2v2.2h-2.2zM73.40,401.50h2.2v2.2h-2.2zM80.00,401.90h2.2v2.2h-2.2zM84.70,397.30h2.2v2.2h-2.2zM84.70,403.40h2.2v2.2h-2.2zM84.70,410.40h2.2v2.2h-2.2zM88.40,411.90h2.2v2.2h-2.2zM88.80,418.60h2.2v2.2h-2.2zM90.60,421.90h2.2v2.2h-2.2zM93.30,419.20h2.2v2.2h-2.2zM96.70,422.30h2.2v2.2h-2.2zM92.70,426.30h2.2v2.2h-2.2zM96.70,428.40h2.2v2.2h-2.2zM93.30,431.00h2.2v2.2h-2.2zM96.70,435.40h2.2v2.2h-2.2zM100.60,436.90h2.2v2.2h-2.2zM96.70,440.90h2.2v2.2h-2.2zM100.70,443.10h2.2v2.2h-2.2zM96.70,446.90h2.2v2.2h-2.2zM100.70,449.20h2.2v2.2h-2.2zM96.70,453.20h2.2v2.2h-2.2zM101.20,453.90h2.2v2.2h-2.2zM108.40,454.10h2.2v2.2h-2.2zM96.70,459.00h2.2v2.2h-2.2zM101.00,461.20h2.2v2.2h-2.2zM108.90,459.50h2.2v2.2h-2.2zM101.00,467.40h2.2v2.2h-2.2zM108.90,466.00h2.2v2.2h-2.2zM101.00,473.90h2.2v2.2h-2.2zM108.90,471.60h2.2v2.2h-2.2zM114.90,471.80h2.2v2.2h-2.2zM121.20,471.80h2.2v2.2h-2.2zM127.40,471.80h2.2v2.2h-2.2zM101.20,479.00h2.2v2.2h-2.2zM107.70,479.20h2.2v2.2h-2.2zM114.00,479.20h2.2v2.2h-2.2zM120.20,479.20h2.2v2.2h-2.2zM126.50,479.20h2.2v2.2h-2.2zM132.70,478.90h2.2v2.2h-2.2zM132.70,485.00h2.2v2.2h-2.2zM133.10,489.90h2.2v2.2h-2.2zM136.60,493.30h2.2v2.2h-2.2zM133.40,495.70h2.2v2.2h-2.2zM321.00,399.40h2.2v2.2h-2.2zM321.00,405.40h2.2v2.2h-2.2zM321.00,411.90h2.2v2.2h-2.2zM321.00,418.20h2.2v2.2h-2.2zM325.70,419.60h2.2v2.2h-2.2zM329.10,397.40h2.2v2.2h-2.2zM329.10,404.80h2.2v2.2h-2.2zM333.10,406.10h2.2v2.2h-2.2zM333.10,412.20h2.2v2.2h-2.2zM333.10,418.60h2.2v2.2h-2.2zM329.10,422.30h2.2v2.2h-2.2zM333.10,424.30h2.2v2.2h-2.2zM329.10,428.30h2.2v2.2h-2.2zM333.10,431.00h2.2v2.2h-2.2zM329.10,434.60h2.2v2.2h-2.2zM333.10,437.00h2.2v2.2h-2.2zM329.20,440.60h2.2v2.2h-2.2zM333.20,443.00h2.2v2.2h-2.2zM329.20,446.80h2.2v2.2h-2.2zM333.20,449.40h2.2v2.2h-2.2zM329.20,453.60h2.2v2.2h-2.2zM333.20,454.90h2.2v2.2h-2.2zM329.20,457.90h2.2v2.2h-2.2zM336.20,458.60h2.2v2.2h-2.2zM333.20,461.50h2.2v2.2h-2.2zM337.10,463.80h2.2v2.2h-2.2zM333.20,467.80h2.2v2.2h-2.2zM337.10,469.30h2.2v2.2h-2.2zM334.50,471.70h2.2v2.2h-2.2zM337.10,475.90h2.2v2.2h-2.2zM337.10,482.20h2.2v2.2h-2.2zM337.10,488.40h2.2v2.2h-2.2zM337.10,494.50h2.2v2.2h-2.2z" fill="#000"/>
<rect x="72.90" y="392.40" width="1.80" height="1.50" fill="#000"/>
<rect x="289.60" y="392.40" width="1.80" height="1.50" fill="#000"/>
<rect x="292.90" y="392.40" width="1.80" height="1.50" fill="#000"/>
<rect x="313.10" y="392.40" width="1.80" height="1.50" fill="#000"/>
<rect x="320.90" y="392.40" width="1.80" height="1.50" fill="#000"/>
<line x1="448.30" y1="398.90" x2="462.80" y2="398.90" stroke="#333" stroke-width="2.2" stroke-dasharray="4.4 1.8"/>
<path d="M455.2,398.90 L457.0,396.10 L458.8,398.90 Z" fill="#333"/>
<text x="468.20" y="402.20" font-size="10.2" text-anchor="start" font-weight="normal" font-style="normal" stroke="#000" stroke-width="0.5" >vehicle 737</text>
<line x1="448.30" y1="412.40" x2="462.60" y2="412.40" stroke="#4a4a4a" stroke-width="2.1" />
<path d="M455.2,412.40 L457.0,409.60 L458.8,412.40 Z" fill="#4a4a4a"/>
<text x="468.20" y="415.70" font-size="10.2" text-anchor="start" font-weight="normal" font-style="normal" stroke="#000" stroke-width="0.5" >ABT-737</text>
<line x1="448.30" y1="425.90" x2="462.80" y2="425.90" stroke="#000" stroke-width="2.2" stroke-dasharray="4.4 1.8"/>
<path d="M455.2,425.90 L457.0,423.10 L458.8,425.90 Z" fill="#000"/>
<text x="468.20" y="429.20" font-size="10.2" text-anchor="start" font-weight="normal" font-style="normal" stroke="#000" stroke-width="0.5" >vehicle 199</text>
<line x1="448.30" y1="439.40" x2="462.60" y2="439.40" stroke="#000" stroke-width="2.1" />
<path d="M455.2,439.40 L457.0,436.60 L458.8,439.40 Z" fill="#000"/>
<text x="468.20" y="442.70" font-size="10.2" text-anchor="start" font-weight="normal" font-style="normal" stroke="#000" stroke-width="0.5" >ABT-199</text>
</svg></body></html>
